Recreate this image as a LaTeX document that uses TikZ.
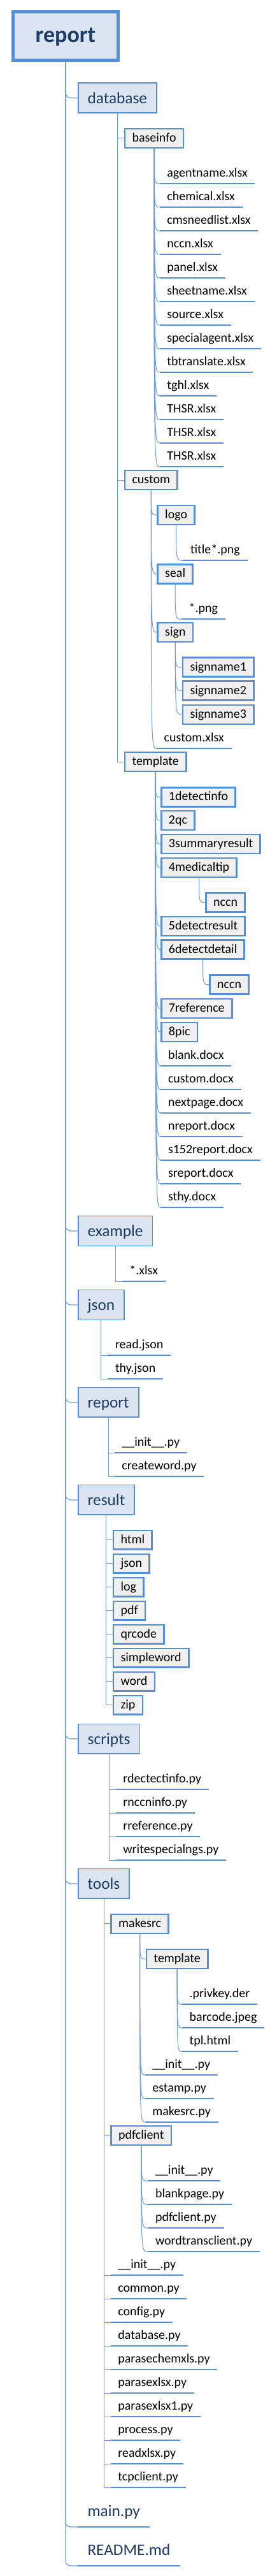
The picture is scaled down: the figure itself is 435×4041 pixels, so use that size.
\documentclass[tikz,border=0pt]{standalone}
\usepackage{fontspec}
\setmainfont{Carlito}
\usetikzlibrary{calc}
\definecolor{bord}{HTML}{568FD6}
\definecolor{connc}{HTML}{6C9BDA}
\definecolor{fillone}{HTML}{DBE5F1}
\definecolor{filltwo}{HTML}{F0F0F0}
\definecolor{navy}{HTML}{1F3B63}
\newcommand\myfs[1]{\fontsize{#1}{#1}\selectfont}
\newcommand\curv[2]{\draw[cn] (#1) .. controls (#1 |- #2) and (#1 |- #2) .. (#2);}
\newcommand\elb[2]{\draw[cn] (#1) |- (#2);}
\begin{document}
\begin{tikzpicture}[x=1pt,y=-1pt,
 rootbox/.style={draw=bord, line width=4.7pt, fill=fillone, text=navy, font=\myfs{36}\bfseries, inner xsep=35pt, inner ysep=0pt, minimum height=76pt, text height=28pt, text depth=7.4pt, anchor=west},
 lvone/.style={draw=bord, line width=1.7pt, fill=fillone, text=navy, font=\myfs{25.3}, inner xsep=15pt, inner ysep=0pt, minimum height=46.8pt, text height=22pt, text depth=4.8pt, anchor=west},
 lvtwo/.style={draw=bord, line width=2.7pt, fill=filltwo, text=black, font=\myfs{20}, inner xsep=11.5pt, inner ysep=0pt, minimum height=29.9pt, text height=15pt, text depth=4.4pt, anchor=west},
 uline/.style={draw=bord, line width=2pt},
 fileone/.style={anchor=south west, inner xsep=15pt, inner ysep=0pt, text=navy, font=\myfs{25.3}, text height=18pt, text depth=16.7pt, append after command={(\tikzlastnode.south west) edge[uline] (\tikzlastnode.south east)}},
 filetwo/.style={anchor=south west, inner xsep=11.5pt, inner ysep=0pt, text=black, font=\myfs{20}, text height=14pt, text depth=10.3pt, append after command={(\tikzlastnode.south west) edge[uline] (\tikzlastnode.south east)}},
 cn/.style={draw=connc, line width=1pt},
 cnroot/.style={draw=connc, line width=1.2pt, rounded corners=8pt},
]
\useasboundingbox (0,0) rectangle (435,4041);

% root and level one
\node[rootbox] (root) at (18.35,56.4) {report};
\node[lvone] (database) at (121.85,153.7) {database};
\node[lvone] (example) at (121.85,1931) {example};
\node[lvone] (json) at (121.85,2047) {json};
\node[lvone] (reportdir) at (121.85,2199.9) {report};
\node[lvone] (result) at (121.85,2352.9) {result};
\node[lvone] (scripts) at (121.85,2727.8) {scripts};
\node[lvone] (tools) at (121.85,2954.9) {tools};
\node[fileone] (mainpy) at (122.3,3964) {main.py};
\node[fileone] (readme) at (122.3,4025) {README.md};

\foreach \n in {database,example,json,reportdir,result,scripts,tools}
  \draw[cnroot] (root.south) |- (\n.west);
\draw[cnroot] (root.south) |- (mainpy.south west);
\draw[cnroot] (root.south) |- (readme.south west);

% database
\node[lvtwo] (baseinfo) at (194.65,217) {baseinfo};
\node[lvtwo] (custom) at (194.65,753) {custom};
\node[lvtwo] (tmpl) at (194.65,1195) {template};
\elb{database.south}{baseinfo.west}
\elb{database.south}{custom.west}
\elb{database.south}{tmpl.west}

\foreach \t [count=\i from 0] in {agentname.xlsx,chemical.xlsx,cmsneedlist.xlsx,nccn.xlsx,panel.xlsx,sheetname.xlsx,source.xlsx,specialagent.xlsx,tbtranslate.xlsx,tghl.xlsx,THSR.xlsx,THSR.xlsx,THSR.xlsx}
  {\node[filetwo] (bi\i) at (250.7,{288+37*\i}) {\t};
   \curv{baseinfo.south}{bi\i.south west}}

% custom
\node[lvtwo] (logo) at (246.35,808) {logo};
\node[filetwo] (titlepng) at (287.3,879.3) {title*.png};
\node[lvtwo] (seal) at (246.35,900.2) {seal};
\node[filetwo] (sealpng) at (285,971.3) {*.png};
\node[lvtwo] (sign) at (246.35,992) {sign};
\node[lvtwo] (sna) at (285.65,1046.7) {signname1};
\node[lvtwo] (snb) at (285.65,1083.7) {signname2};
\node[lvtwo] (snc) at (285.65,1121) {signname3};
\node[filetwo] (customx) at (246,1174.3) {custom.xlsx};
\curv{custom.south}{logo.west}
\curv{custom.south}{seal.west}
\curv{custom.south}{sign.west}
\curv{custom.south}{customx.south west}
\curv{logo.south}{titlepng.south west}
\curv{seal.south}{sealpng.south west}
\curv{sign.south}{sna.west}
\curv{sign.south}{snb.west}
\curv{sign.south}{snc.west}

% template (database)
\node[lvtwo] (ta) at (252.05,1250.3) {1detectinfo};
\node[lvtwo] (tb) at (252.05,1287) {2qc};
\node[lvtwo] (tc) at (252.05,1324) {3summaryresult};
\node[lvtwo] (td) at (252.05,1361) {4medicaltip};
\node[lvtwo] (nccna) at (322.35,1415.7) {nccn};
\node[lvtwo] (te) at (252.05,1453) {5detectresult};
\node[lvtwo] (tf) at (252.05,1489.7) {6detectdetail};
\node[lvtwo] (nccnb) at (328.35,1544.7) {nccn};
\node[lvtwo] (tg) at (252.05,1582) {7reference};
\node[lvtwo] (th) at (252.05,1619) {8pic};
\foreach \n in {ta,tb,tc,td,te,tf,tg,th} {\curv{tmpl.south}{\n.west}}
\curv{td.south}{nccna.west}
\curv{tf.south}{nccnb.west}
\foreach \t [count=\i from 0] in {blank.docx,custom.docx,nextpage.docx,nreport.docx,s152report.docx,sreport.docx,sthy.docx}
  {\node[filetwo] (tx\i) at (252.3,{1672.3+37*\i}) {\t};
   \curv{tmpl.south}{tx\i.south west}}

% example
\node[filetwo] (exx) at (191.7,2010.3) {*.xlsx};
\elb{example.south}{exx.south west}

% json
\node[filetwo] (readjson) at (169.3,2126.3) {read.json};
\node[filetwo] (thyjson) at (169.3,2163.3) {thy.json};
\elb{json.south}{readjson.south west}
\elb{json.south}{thyjson.south west}

% report
\node[filetwo] (rinit) at (179.7,2279.3) {\_\_init\_\_.py};
\node[filetwo] (createword) at (179.7,2316.3) {createword.py};
\elb{reportdir.south}{rinit.south west}
\elb{reportdir.south}{createword.south west}

% result
\foreach \t [count=\i from 0] in {html,json,log,pdf,qrcode,simpleword,word,zip}
  {\node[lvtwo] (rs\i) at (176.65,{2415.8+37*\i}) {\t};
   \elb{result.south}{rs\i.west}}

% scripts
\foreach \t [count=\i from 0] in {rdectectinfo.py,rnccninfo.py,rreference.py,writespecialngs.py}
  {\node[filetwo] (sc\i) at (181.7,{2807.3+37*\i}) {\t};
   \elb{scripts.south}{sc\i.south west}}

% tools
\node[lvtwo] (makesrc) at (173.35,3017.9) {makesrc};
\node[lvtwo] (pdfclient) at (173.35,3350) {pdfclient};
\elb{tools.south}{makesrc.west}
\elb{tools.south}{pdfclient.west}
\foreach \t [count=\i from 0] in {\_\_init\_\_.py,common.py,config.py,database.py,parasechemxls.py,parasexlsx.py,parasexlsx1.py,process.py,readxlsx.py,tcpclient.py}
  {\node[filetwo] (tl\i) at (173.7,{3569.3+37*\i}) {\t};
   \elb{tools.south}{tl\i.south west}}

% makesrc
\node[lvtwo] (tmpltwo) at (228.65,3073) {template};
\curv{makesrc.south}{tmpltwo.west}
\foreach \t [count=\i from 0] in {\_\_init\_\_.py,estamp.py,makesrc.py}
  {\node[filetwo] (mk\i) at (227.7,{3255+37*\i}) {\t};
   \curv{makesrc.south}{mk\i.south west}}
\foreach \t [count=\i from 0] in {.privkey.der,barcode.jpeg,tpl.html}
  {\node[filetwo] (tt\i) at (286,{3144.3+37*\i}) {\t};
   \curv{tmpltwo.south}{tt\i.south west}}

% pdfclient
\foreach \t [count=\i from 0] in {\_\_init\_\_.py,blankpage.py,pdfclient.py,wordtransclient.py}
  {\node[filetwo] (pc\i) at (232.3,{3421.3+37*\i}) {\t};
   \curv{pdfclient.south}{pc\i.south west}}
\end{tikzpicture}
\end{document}
